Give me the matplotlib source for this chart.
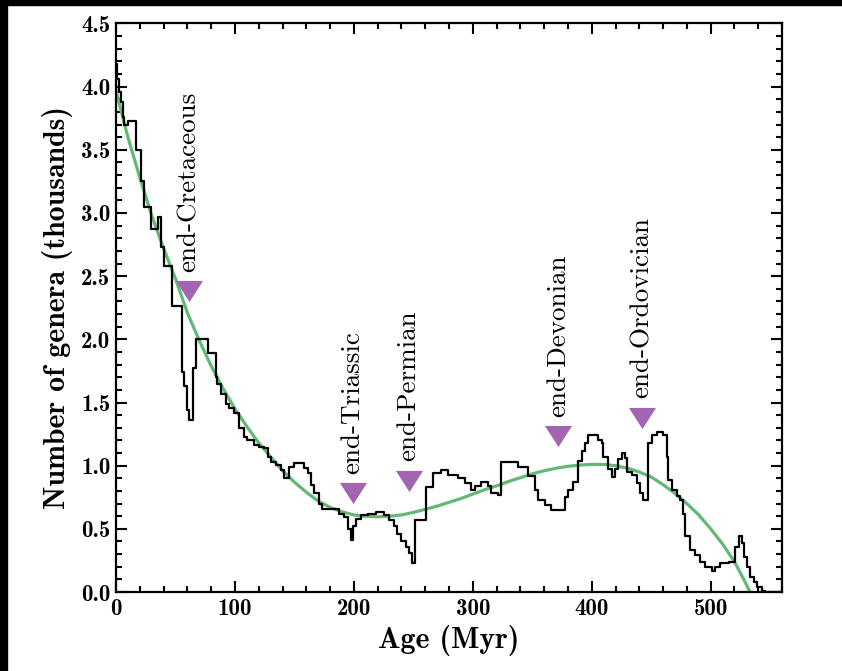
import matplotlib
matplotlib.use('Agg')
import matplotlib.pyplot as plt
from matplotlib.patches import Rectangle
from matplotlib.path import Path
from matplotlib.ticker import MultipleLocator, FormatStrFormatter

# Genus counts (thousands) as a step series: left edge of each step (Myr) and value
step_age = [0, 1, 2.5, 4, 5.5, 7, 10, 16.4, 20.6, 23.4, 29, 35, 38, 40.5, 47.4,
            55.8, 57, 59.5, 61, 64.6, 67.4, 77.3, 83.8, 85.2, 88, 92.2, 95.1,
            99.3, 103.5, 107.7, 110.5, 116.1, 120.3, 124.5, 127.4, 130.2, 134.4,
            138.6, 141.4, 145.6, 149.8, 158.2, 161.1, 163.9, 166.7, 170.9, 173.5,
            183.6, 187.8, 192, 194.8, 197.5, 199.5, 202, 206, 211.6, 218.6, 225.6,
            229.8, 234.1, 236, 240, 244, 246.5, 248.5, 251, 260.7, 266.4, 273.4,
            279, 287.4, 293.1, 298.7, 301.5, 307.1, 312.7, 315.5, 321.1, 324,
            338, 346.4, 352.1, 354.9, 360.5, 366.1, 377.4, 380.2, 384.4, 388.6,
            391.4, 394.3, 397.1, 405.5, 408.3, 409.7, 413.9, 416.8, 419.6, 422.4,
            425.2, 428, 429.4, 433.6, 437.8, 440.6, 443.4, 447.7, 450.5, 454.7,
            460.3, 463.1, 464.5, 467.3, 471.5, 474.3, 477.1, 478.5, 482.7, 486.9,
            491.2, 495.4, 501, 503.8, 508, 515.1, 520.7, 523.5, 526.3, 527.7,
            530.5, 533.3, 536.1, 539, 543.2, 546, 560]
step_val = [4.18, 4.06, 3.96, 3.88, 3.76, 3.70, 3.73, 3.50, 3.25, 3.05, 2.87, 2.97,
            2.73, 2.58, 2.26, 1.74, 1.63, 1.44, 1.36, 1.77, 2.00, 1.89, 1.70, 1.65,
            1.57, 1.49, 1.455, 1.415, 1.30, 1.23, 1.20, 1.165, 1.15, 1.14, 1.07,
            1.03, 1.005, 0.965, 0.90, 0.99, 1.02, 0.98, 0.94, 0.85, 0.78, 0.70,
            0.66, 0.655, 0.62, 0.595, 0.50, 0.41, 0.52, 0.58, 0.61, 0.62, 0.63,
            0.61, 0.57, 0.52, 0.46, 0.40, 0.36, 0.31, 0.23, 0.57, 0.83, 0.94,
            0.965, 0.93, 0.90, 0.86, 0.81, 0.84, 0.87, 0.84, 0.78, 0.77, 1.03,
            0.99, 0.92, 0.81, 0.73, 0.69, 0.65, 0.75, 0.81, 0.87, 1.04, 1.12,
            1.18, 1.24, 1.20, 1.18, 1.07, 0.97, 0.91, 0.97, 1.05, 1.10, 1.06,
            0.95, 0.93, 0.86, 0.78, 0.73, 1.18, 1.24, 1.27, 1.24, 1.07, 0.89,
            0.81, 0.76, 0.73, 0.62, 0.44, 0.33, 0.29, 0.24, 0.20, 0.17, 0.20,
            0.23, 0.24, 0.36, 0.44, 0.39, 0.28, 0.20, 0.12, 0.08, 0.04, 0.01,
            0.0, 0.0]

# Smooth fit (green)
fit_age = [0, 5, 10, 20, 30, 40, 50, 60, 70, 80, 90, 100, 110, 120, 130, 140,
           150, 160, 170, 180, 190, 200, 210, 220, 230, 240, 250, 260, 270, 280,
           290, 300, 310, 320, 330, 340, 350, 360, 370, 380, 390, 400, 410, 420,
           430, 440, 450, 460, 470, 480, 490, 500, 510, 520, 530, 533]
fit_val = [3.97, 3.78, 3.60, 3.28, 2.98, 2.72, 2.48, 2.21, 1.99, 1.79, 1.61,
           1.45, 1.31, 1.18, 1.07, 0.96, 0.87, 0.79, 0.72, 0.67, 0.635, 0.61,
           0.60, 0.595, 0.60, 0.61, 0.63, 0.655, 0.68, 0.71, 0.74, 0.775, 0.81,
           0.84, 0.875, 0.905, 0.935, 0.96, 0.98, 0.995, 1.005, 1.01, 1.01, 1.0,
           0.98, 0.95, 0.91, 0.85, 0.78, 0.70, 0.61, 0.50, 0.38, 0.24, 0.06, 0.0]

# Mass extinctions
event_names = ['end-Cretaceous', 'end-Triassic', 'end-Permian', 'end-Devonian', 'end-Ordovician']
event_age = [61.5, 199, 246, 372, 442]
event_level = [2.38, 0.78, 0.88, 1.235, 1.38]

fig = plt.figure(figsize=(8.42, 6.71), dpi=100)
ax = fig.add_axes([0.1378, 0.1177, 0.7910, 0.8473])

ax.plot(fit_age, fit_val, color='#62b977', lw=2.3, zorder=2)
ax.step(step_age, step_val, where='post', color='black', lw=1.6, zorder=3)

# downward triangle, a bit flatter than the default 'v'
tri = Path([(-1, 0.78), (1, 0.78), (0, -0.78), (-1, 0.78)],
           [Path.MOVETO, Path.LINETO, Path.LINETO, Path.CLOSEPOLY])
ax.plot(event_age, event_level, ls='none', marker=tri, markersize=19.5,
        color='#a365b1', markeredgewidth=0, zorder=4)
for name, a, v in zip(event_names, event_age, event_level):
    ax.annotate(name, (a, v), xytext=(0, 14), textcoords='offset points',
                rotation=90, ha='center', va='bottom', fontsize=19.5,
                family='cmr10')

ax.set_xlim(0, 560)
ax.set_ylim(0, 4.5)
ax.xaxis.set_major_locator(MultipleLocator(100))
ax.xaxis.set_minor_locator(MultipleLocator(20))
ax.yaxis.set_major_locator(MultipleLocator(0.5))
ax.yaxis.set_minor_locator(MultipleLocator(0.1))
ax.xaxis.set_major_formatter(FormatStrFormatter('%d'))
ax.yaxis.set_major_formatter(FormatStrFormatter('%.1f'))
ax.tick_params(which='both', direction='in', top=True, right=True,
               width=1.5, labelsize=16.5, labelfontfamily='cmb10', pad=4)
ax.tick_params(which='major', length=8)
ax.tick_params(which='minor', length=4.5)
for s in ax.spines.values():
    s.set_linewidth(1.6)

ax.set_xlabel('Age (Myr)', fontsize=21.5, family='cmb10', labelpad=4)
ax.set_ylabel('Number of genera (thousands)', fontsize=21.5, family='cmb10', labelpad=6)

# dark screenshot border on the top and left
fig.patches.append(Rectangle((0, 1 - 5 / 671), 1, 5 / 671, transform=fig.transFigure,
                             color='black', zorder=0))
fig.patches.append(Rectangle((0, 0), 7 / 842, 1, transform=fig.transFigure,
                             color='black', zorder=0))

fig.savefig('out.png', dpi=100)
